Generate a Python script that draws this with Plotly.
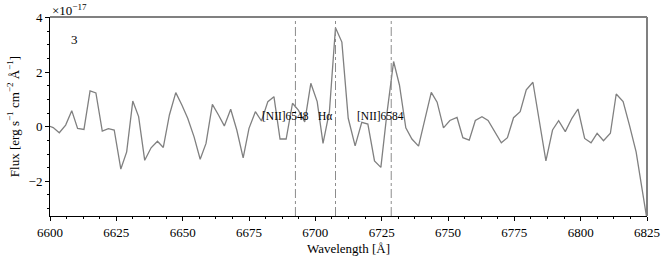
import plotly.graph_objects as go

wavelength = [6598.9, 6601.2, 6603.5, 6605.9, 6608.2, 6610.4, 6612.8, 6615.1, 6617.3, 6619.7,
              6622.0, 6624.2, 6626.7, 6628.9, 6631.2, 6633.4, 6635.7, 6638.1, 6640.5, 6642.7,
              6645.0, 6647.4, 6649.7, 6651.9, 6654.3, 6656.6, 6658.8, 6661.2, 6663.5, 6665.7,
              6668.1, 6670.4, 6672.8, 6675.0, 6677.4, 6679.7, 6682.1, 6684.4, 6686.7, 6689.0,
              6691.4, 6693.6, 6696.0, 6698.3, 6700.7, 6702.9, 6705.3, 6707.6, 6710.0, 6712.4,
              6715.0, 6717.5, 6719.8, 6722.3, 6724.7, 6727.0, 6729.5, 6731.7, 6734.1, 6736.4,
              6738.9, 6741.1, 6743.7, 6745.9, 6748.3, 6750.7, 6753.4, 6755.6, 6758.0, 6760.3,
              6762.8, 6765.1, 6767.5, 6770.1, 6772.4, 6774.7, 6777.2, 6779.5, 6782.0, 6784.4,
              6786.9, 6789.4, 6791.7, 6794.2, 6796.7, 6799.0, 6801.5, 6803.9, 6806.2, 6808.6,
              6811.2, 6813.4, 6816.0, 6818.4, 6820.9, 6823.1, 6825.5]

flux = [0.05, -0.03, -0.22, 0.06, 0.59, -0.06, -0.10, 1.31, 1.24, -0.16,
        -0.07, -0.12, -1.55, -0.92, 0.94, 0.37, -1.23, -0.77, -0.53, -0.76,
        0.43, 1.25, 0.80, 0.31, -0.37, -1.19, -0.61, 0.82, 0.43, 0.03,
        0.64, -0.12, -1.14, -0.06, 0.55, 0.21, 0.92, 1.10, -0.45, -0.45,
        0.86, 0.61, 0.18, 1.59, 0.92, -0.61, 0.55, 3.63, 3.10, 0.31,
        -0.70, 0.16, 0.10, -1.25, -1.49, 0.50, 2.39, 1.53, -0.04, -0.45,
        -0.71, 0.16, 1.26, 0.90, -0.04, 0.23, 0.34, -0.40, -0.49, 0.23,
        0.37, 0.23, -0.18, -0.59, -0.40, 0.33, 0.55, 1.35, 1.63, 0.18,
        -1.25, -0.12, 0.22, -0.18, 0.31, 0.65, -0.43, -0.59, -0.24, -0.51,
        -0.24, 1.20, 0.92, 0.05, -0.92, -2.26, -3.70]

line_names = ["[NII]6548", "H\u03b1", "[NII]6584"]
line_waves = [6692.5, 6707.6, 6728.6]
label_offset = -3.9
label_y = 0.39

x_ticks = [6600, 6625, 6650, 6675, 6700, 6725, 6750, 6775, 6800, 6825]
y_ticks = [-2, 0, 2, 4]

GREY = "#808080"
FONT = "Liberation Serif"

fig = go.Figure()
fig.add_trace(go.Scatter(x=wavelength, y=flux, mode="lines",
                         line=dict(color=GREY, width=1.3), showlegend=False))

for w in line_waves:
    fig.add_shape(type="line", xref="x", yref="paper", x0=w, x1=w, y0=0, y1=1,
                  line=dict(color="#8c8c8c", width=1, dash="dashdot"))
for name, w in zip(line_names, line_waves):
    fig.add_annotation(x=w + label_offset, y=label_y, text=name, showarrow=False,
                       font=dict(family=FONT, size=11.5, color="black"))

fig.add_annotation(x=6609.4, y=3.18, text="3", showarrow=False,
                   font=dict(family=FONT, size=13, color="black"))
fig.add_annotation(xref="paper", yref="paper", x=0, y=1, xanchor="left", yanchor="bottom",
                   text="\u00d710<sup>\u221217</sup>", showarrow=False, yshift=-3,
                   font=dict(family=FONT, size=13, color="black"))

# top and right frame lines (grey)
fig.add_shape(type="line", xref="paper", yref="paper", x0=0, x1=1, y0=1, y1=1,
              line=dict(color=GREY, width=2))
fig.add_shape(type="line", xref="paper", yref="paper", x0=1, x1=1, y0=0, y1=1,
              line=dict(color=GREY, width=2))

fig.update_layout(
    width=665, height=259,
    margin=dict(l=50, r=18, t=17, b=43),
    paper_bgcolor="white", plot_bgcolor="white",
    font=dict(family=FONT, size=13, color="black"),
    xaxis=dict(range=[6600, 6825], tickvals=x_ticks, ticks="outside", ticklen=4,
               tickwidth=1, tickcolor="black", showline=True, linecolor="black",
               linewidth=1, showgrid=False, zeroline=False, ticklabeloverflow="allow",
               automargin=False,
               minor=dict(dtick=6.25, ticks="outside", ticklen=2, tickcolor="black"),
               title=dict(text="Wavelength [\u00c5]", standoff=5,
                          font=dict(family=FONT, size=13)),
               tickfont=dict(family=FONT, size=13)),
    yaxis=dict(range=[-3.27, 4.02], tickvals=y_ticks, ticks="outside", ticklen=4,
               tickwidth=1, tickcolor="black", showline=True, linecolor="black",
               linewidth=1, showgrid=False, zeroline=False, ticklabeloverflow="allow",
               automargin=False,
               minor=dict(dtick=0.5, ticks="outside", ticklen=2, tickcolor="black"),
               title=dict(text="Flux [erg s<sup>\u22121</sup> cm<sup>\u22122</sup> \u00c5<sup>\u22121</sup>]",
                          standoff=6, font=dict(family=FONT, size=13)),
               tickfont=dict(family=FONT, size=13)),
)

fig.write_html("out.html", config={"displayModeBar": False},
               post_script="document.body.style.margin='0';")
